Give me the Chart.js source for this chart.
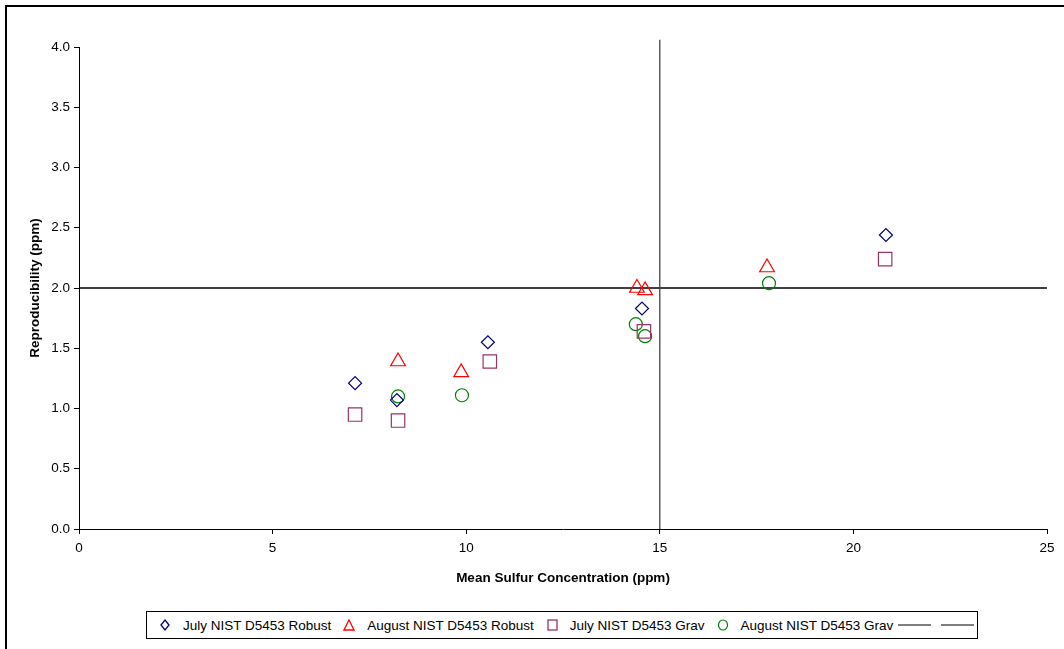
<!DOCTYPE html>
<html>
<head>
<meta charset="utf-8">
<script src="https://cdn.jsdelivr.net/npm/chart.js@4/dist/chart.umd.min.js"></script>
<style>
  html, body { margin: 0; padding: 0; background: #fff; overflow: hidden; }
  #wrap { position: relative; width: 1064px; height: 649px; }
  #frame { position: absolute; left: 5px; top: 5px; width: 1100px; height: 700px; border: 2px solid #000; }
  canvas { position: absolute; left: 0; top: 0; }
  #legend {
    position: absolute; left: 146px; top: 611px; width: 832px; height: 28px;
    border: 1px solid #000; box-sizing: border-box; background: #fff;
    display: flex; align-items: center; font: 13.5px "Liberation Sans", Arial, sans-serif; color: #000;
    white-space: nowrap;
  }
  #legend .item { display: flex; align-items: center; }
  #legend svg { margin-right: 12px; }
</style>
</head>
<body>
<div id="wrap">
  <div id="frame"></div>
  <canvas id="chart" width="1064" height="649"></canvas>
  <div id="legend"></div>
</div>
<script>
const seriesNames = ["July NIST D5453 Robust", "August NIST D5453 Robust", "July NIST D5453 Grav", "August NIST D5453 Grav"];

const julyRobustX = [7.13, 8.21, 10.56, 14.54, 20.84];
const julyRobustY = [1.21, 1.07, 1.55, 1.83, 2.44];

const augRobustX = [8.24, 9.87, 14.41, 14.62, 17.77];
const augRobustY = [1.39, 1.30, 2.00, 1.98, 2.17];

const julyGravX = [7.13, 8.24, 10.61, 14.59, 20.82];
const julyGravY = [0.95, 0.90, 1.39, 1.64, 2.24];

const augGravX = [8.24, 9.89, 14.38, 14.62, 17.82];
const augGravY = [1.10, 1.11, 1.70, 1.60, 2.04];

// reference lines
const vLineX = [15, 15];
const vLineY = [0, 4.06];
const hLineX = [0, 25];
const hLineY = [2.0, 2.0];

const toPoints = (xs, ys) => xs.map((x, i) => ({ x, y: ys[i] }));

const font = "'Liberation Sans', Arial, sans-serif";

const scatter = (label, xs, ys, color, style, radius) => ({
  type: "scatter",
  label,
  data: toPoints(xs, ys),
  pointStyle: style,
  pointRadius: radius,
  pointBorderColor: color,
  pointBackgroundColor: "rgba(0,0,0,0)",
  pointBorderWidth: 1.2,
  borderColor: color,
});

const datasets = [
  scatter(seriesNames[0], julyRobustX, julyRobustY, "#000080", "rectRot", 6.5),
  scatter(seriesNames[1], augRobustX, augRobustY, "#ff0000", "triangle", 8.5),
  scatter(seriesNames[2], julyGravX, julyGravY, "#993366", "rect", 9.5),
  scatter(seriesNames[3], augGravX, augGravY, "#008000", "circle", 6.5),
  {
    type: "line", label: "", data: toPoints(vLineX, vLineY),
    borderColor: "#444", borderWidth: 1.3, pointRadius: 0, clip: false,
  },
  {
    type: "line", label: "", data: toPoints(hLineX, hLineY),
    borderColor: "#000", borderWidth: 1.3, pointRadius: 0, clip: false,
  },
];

new Chart(document.getElementById("chart"), {
  data: { datasets },
  options: {
    responsive: false,
    animation: false,
    layout: { padding: { left: 27, right: 17, top: 47, bottom: 63 } },
    plugins: { legend: { display: false }, tooltip: { enabled: false } },
    scales: {
      x: {
        type: "linear",
        min: 0, max: 25,
        ticks: { stepSize: 5, color: "#000", font: { family: font, size: 13.5 }, padding: 6 },
        grid: { drawOnChartArea: false, color: "#000", tickLength: 5 },
        border: { color: "#000", width: 1 },
        title: {
          display: true, text: "Mean Sulfur Concentration (ppm)", color: "#000",
          font: { family: font, size: 13.5, weight: "bold" }, padding: 0,
        },
        afterFit: (scale) => { scale.height = 57; },
      },
      y: {
        type: "linear",
        min: 0, max: 4,
        ticks: {
          stepSize: 0.5, color: "#000", font: { family: font, size: 13.5 }, padding: 4,
          callback: (v) => v.toFixed(1),
        },
        grid: { drawOnChartArea: false, color: "#000", tickLength: 5 },
        border: { color: "#000", width: 1 },
        title: {
          display: true, text: "Reproducibility (ppm)", color: "#000",
          font: { family: font, size: 13.5, weight: "bold" }, padding: 0,
        },
        afterFit: (scale) => { scale.width = 52; },
      },
    },
  },
});

// HTML legend built from the dataset list
const markerSvg = (ds) => {
  const c = ds.pointBorderColor;
  let shape = "";
  if (ds.pointStyle === "rectRot") shape = `<polygon points="6,2 10,7 6,12 2,7" fill="none" stroke="${c}" stroke-width="1.3"/>`;
  if (ds.pointStyle === "triangle") shape = `<polygon points="6,2 11,12 1,12" fill="none" stroke="${c}" stroke-width="1.3"/>`;
  if (ds.pointStyle === "rect") shape = `<rect x="2" y="2" width="9" height="10" fill="none" stroke="${c}" stroke-width="1.3"/>`;
  if (ds.pointStyle === "circle") shape = `<ellipse cx="6" cy="7" rx="4.5" ry="5" fill="none" stroke="${c}" stroke-width="1.2"/>`;
  return `<svg width="12" height="14">${shape}</svg>`;
};
const legend = document.getElementById("legend");
datasets.forEach((ds, i) => {
  const item = document.createElement("span");
  item.className = "item";
  if (ds.type === "scatter") {
    item.innerHTML = markerSvg(ds) + `<span>${ds.label}</span>`;
    item.style.marginLeft = "12px";
  } else {
    item.innerHTML = `<svg width="33" height="4"><line x1="0" y1="2" x2="33" y2="2" stroke="#000" stroke-width="1.2"/></svg>`;
    item.style.marginLeft = i === 4 ? "5px" : "-2px";
  }
  legend.appendChild(item);
});
</script>
</body>
</html>
